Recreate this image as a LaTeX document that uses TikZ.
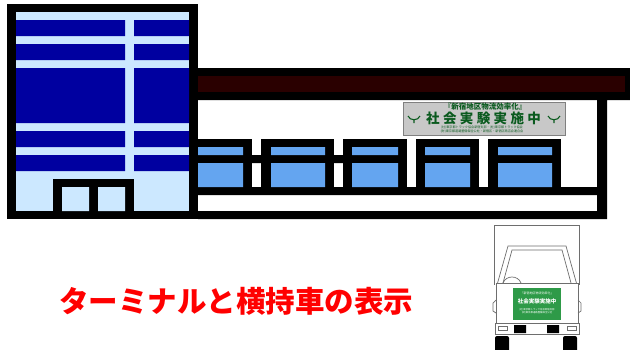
\documentclass[tikz,border=0pt]{standalone}
\usepackage{fontspec}
\newfontfamily\jpfont{Noto Sans CJK JP}
\usepackage{tikz}

\definecolor{paleblue}{HTML}{CCE8FF}
\definecolor{deepblue}{HTML}{0000A0}
\definecolor{glassblue}{HTML}{64A5F0}
\definecolor{roofred}{HTML}{2A0000}
\definecolor{signgray}{HTML}{C8C8C8}
\definecolor{signgreen}{HTML}{0A5A1E}
\definecolor{plategreen}{HTML}{2E9A48}
\definecolor{truckline}{HTML}{6E6E6E}

\tikzset{
    truck/.style = {draw=truckline, line width=0.7pt},
    signtext/.style = {text=signgreen, inner sep=0pt},
    platetext/.style = {text=white, inner sep=0pt},
}

\begin{document}
\begin{tikzpicture}[x=1pt, y=-1pt]
    \useasboundingbox (0, 0) rectangle (630, 349);

    % office block
    \fill (7, 4) rectangle (198, 219);
    \fill[paleblue] (16, 12) rectangle (189, 211);
    \foreach \ya/\yb in {20/36, 44/60, 68/123, 131/147, 155/171}
        \fill[deepblue] (16, \ya) rectangle (125, \yb) (134, \ya) rectangle (189, \yb);
    \fill (53, 179) rectangle (134, 211);
    \fill[paleblue] (62, 187) rectangle (89, 211) (98, 187) rectangle (125, 211);

    % terminal shed
    \fill
        (198, 68) rectangle (630, 100)
        (597, 100) rectangle (607, 219)
        (198, 187) rectangle (607, 195)
        (198, 211) rectangle (607, 219)
        (252, 155) rectangle (261, 163)
        (334, 155) rectangle (343, 163);
    \fill[roofred] (198, 76) rectangle (625, 92);
    \foreach \xa/\xb/\xc/\xd in {198/198/243/252, 261/271/325/334, 343/352/398/407,
                                 416/425/470/479, 488/498/552/561} {
        \fill (\xa, 139) rectangle (\xd, 187);
        \fill[glassblue] (\xb, 147) rectangle (\xc, 155) (\xb, 163) rectangle (\xc, 187);
    }

    % sign board
    \node[draw=gray, fill=signgray, line width=0.8pt, minimum width=162, minimum height=33,
          inner sep=0pt, anchor=north west] (sign) at (403, 102) {};
    \node[signtext, font=\jpfont\bfseries\fontsize{7.5}{7.5}\selectfont] (signtop) at (485, 106.5) {『新宿地区物流効率化』};
    \node[signtext, font=\jpfont\bfseries\fontsize{13.5}{13.5}\selectfont\addfontfeature{LetterSpace=25}] (signmain)
        at (483.5, 118) {社会実験実施中};
    \node[signtext, font=\jpfont\fontsize{3.1}{3.6}\selectfont, align=center] (signnote) at (482, 129.5)
        {(社)東京都トラック協会新宿支部・(社)東京都トラック協会\\(財)東京都道路整備保全公社・新宿区・新宿区商店会連合会};
    \draw[signgreen, line width=1.1pt]
        (408, 116) .. controls (410, 121) and (418, 121) .. (420, 116)
        (414, 119.5) -- (414, 123)
        (548, 116) .. controls (550, 121) and (558, 121) .. (560, 116)
        (554, 119.5) -- (554, 123);

    % truck seen from the front
    \draw[truck] (494, 285) -- (494, 225) -- (579, 225) -- (579, 285);
    \draw[truck, fill=white] (497, 285) -- (508, 246) -- (566, 246) -- (577, 285);
    \draw[truck] (503, 283) -- (512, 250) -- (562, 250) -- (571, 283);
    \draw[truck] (503, 283) .. controls (506, 275) and (518, 275) .. (521, 283);
    \draw[truck, fill=white] (496, 283) -- (496, 323) -- (578, 323) -- (578, 283) -- cycle;
    \draw[truck]
        (496, 300) -- (493, 303) -- (493, 311) -- (496, 313)
        (578, 300) -- (581, 303) -- (581, 311) -- (578, 313);
    \draw[truck] (495, 323) rectangle (579, 334);
    \draw[truck] (498, 326) rectangle (507, 330) (567, 326) rectangle (576, 330);
    \fill (514, 325) rectangle (526, 333) (547, 325) rectangle (559, 333);
    \fill[rounded corners=2pt] (495, 336) rectangle (509, 353) (563, 336) rectangle (577, 353);

    \node[fill=plategreen, minimum width=48, minimum height=32, inner sep=0pt,
          anchor=north west] (plate) at (513, 288) {};
    \node[platetext, font=\jpfont\fontsize{3}{3}\selectfont] (platetop) at (537, 293) {「新宿地区物流効率化」};
    \node[platetext, font=\jpfont\bfseries\fontsize{5.5}{5.5}\selectfont] (platemain) at (537, 301.5) {社会実験実施中};
    \node[platetext, font=\jpfont\fontsize{2.4}{2.9}\selectfont, align=center] (platenote) at (537, 311)
        {(社)東京都トラック協会新宿支部\\(財)東京都道路整備保全公社};

    % caption
    \node[text=red, inner sep=0pt, font=\jpfont\bfseries\fontsize{29.5}{30}\selectfont] (title)
        at (236.5, 301.5) {ターミナルと横持車の表示};
\end{tikzpicture}
\end{document}
